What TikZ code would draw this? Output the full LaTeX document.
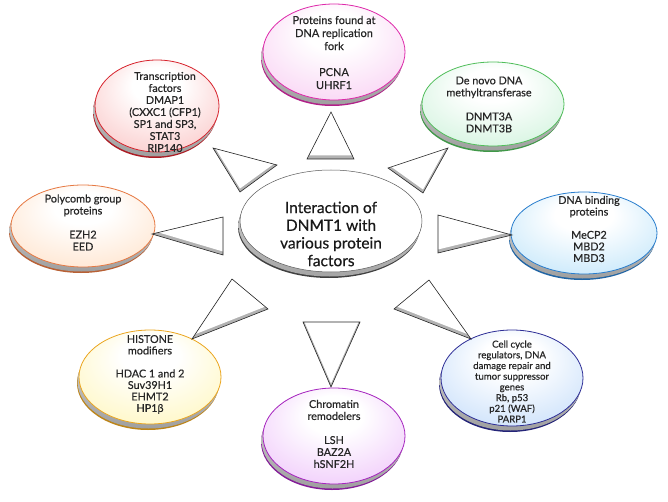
\documentclass[tikz,border=0pt]{standalone}
\usepackage{fontspec}
\setmainfont{Lato}[FakeBold=0.5]
\usetikzlibrary{calc}
\definecolor{cPink}{RGB}{222,40,170}
\definecolor{fPink}{RGB}{248,205,242}
\definecolor{cGreen}{RGB}{80,190,90}
\definecolor{fGreen}{RGB}{205,242,218}
\definecolor{cBlue}{RGB}{40,125,205}
\definecolor{fBlue}{RGB}{190,228,250}
\definecolor{cNavy}{RGB}{45,45,150}
\definecolor{fNavy}{RGB}{195,220,250}
\definecolor{cPurple}{RGB}{165,35,190}
\definecolor{fPurple}{RGB}{238,195,250}
\definecolor{cGold}{RGB}{235,165,30}
\definecolor{fGold}{RGB}{255,246,185}
\definecolor{cOrange}{RGB}{230,120,65}
\definecolor{fOrange}{RGB}{255,225,200}
\definecolor{cRed}{RGB}{215,35,45}
\definecolor{fRed}{RGB}{250,195,195}
\newcommand\declface[1]{\pgfdeclareradialshading{face#1}{\pgfpoint{0bp}{14bp}}{color(0bp)=(white);color(10bp)=(white);color(38bp)=(f#1);color(50bp)=(f#1)}}
\declface{Pink}\declface{Green}\declface{Blue}\declface{Navy}
\declface{Purple}\declface{Gold}\declface{Orange}\declface{Red}
\newcommand\bubble[5]{% x, y, rx, ry, colour key
  \fill[c#5!80!black] (#1-2,#2+6) ellipse ({#3} and {#4});
  \shade[top color=gray!30, bottom color=gray!75] (#1-1.5,#2+4.5) ellipse ({#3} and {#4});
  \shade[shading=face#5] (#1,#2) ellipse ({#3} and {#4});
  \draw[c#5, line width=0.8] (#1,#2) ellipse ({#3} and {#4});
}
\newcommand\tri[6]{%
  \begin{scope}
    \clip (#1,#2)--(#3,#4)--(#5,#6)--cycle;
    \fill[gray!60] (#1,#2)--(#3,#4)--(#5,#6)--cycle;
    \fill[white] (#1,#2-3.5)--(#3,#4-3.5)--(#5,#6-3.5)--cycle;
  \end{scope}
  \draw[black!85, line width=0.6] (#1,#2)--(#3,#4)--(#5,#6)--cycle;
}
\tikzset{
  lbl/.style={align=center, inner sep=0pt, text=black!85, font=\fontsize{10.8}{12}\selectfont},
  bigtxt/.style={align=center, inner sep=0pt, text=black!90, font=\fontsize{15.5}{17.7}\selectfont}
}
\begin{document}
\begin{tikzpicture}[x=1pt,y=-1pt]
\useasboundingbox (0,0) rectangle (668,502);
\fill[white] (0,0) rectangle (668,502);
% outer bubbles
\bubble{334}{52}{71}{48}{Pink}
\bubble{493}{104}{71}{42}{Green}
\bubble{584}{233}{73}{41}{Blue}
\bubble{512}{378}{71}{48}{Navy}
\bubble{334}{436}{71}{48}{Purple}
\bubble{150}{377}{71}{47}{Gold}
\bubble{83}{226}{72}{41}{Orange}
\bubble{157}{106}{62}{46}{Red}
% center bubble
\fill[black!75] (329,227) ellipse (91 and 51);
\shade[top color=gray!30, bottom color=gray!70] (329.5,225.5) ellipse (91 and 51);
\fill[white] (331,221) ellipse (91 and 51);
\draw[black!65, line width=0.5] (331,221) ellipse (91 and 51);
% pointers
\tri{331}{112}{307}{159}{354}{159}
\tri{448}{148}{388}{168}{423}{193}
\tri{512}{235}{438}{215}{438}{253}
\tri{471}{339}{394}{309}{429}{280}
\tri{331}{387}{303}{322}{360}{322}
\tri{192}{339}{232}{279}{268}{309}
\tri{152}{234}{223}{217}{223}{255}
\tri{213}{148}{277}{165}{240}{192}
% texts
\node[bigtxt] (center) at (331,234) {Interaction of\\DNMT1 with\\various protein\\factors};
\node[lbl, font=\fontsize{11}{13}\selectfont] (repl) at (334,52.5) {Proteins found at\\DNA replication\\fork\\[13pt]PCNA\\UHRF1};
\node[lbl] (denovo) at (489,104.5) {De novo DNA\\methyltransferase\\[12pt]DNMT3A\\DNMT3B};
\node[lbl, font=\fontsize{10.8}{11.6}\selectfont] (binding) at (589,229) {DNA binding\\proteins\\[11.6pt]MeCP2\\MBD2\\MBD3};
\node[lbl, font=\fontsize{9.6}{10.7}\selectfont] (cellcycle) at (512,381.5) {Cell cycle\\regulators, DNA\\damage repair and\\tumor suppressor\\genes\\Rb, p53\\p21 (WAF)\\PARP1};
\node[lbl] (chromatin) at (334,434) {Chromatin\\remodelers\\[12pt]LSH\\BAZ2A\\hSNF2H};
\node[lbl, font=\fontsize{10.8}{11.5}\selectfont] (histone) at (150,374.5) {HISTONE\\modifiers\\[11.5pt]HDAC 1 and 2\\Suv39H1\\EHMT2\\HP1β};
\node[lbl] (polycomb) at (83,222.5) {Polycomb group\\proteins\\[12pt]EZH2\\EED};
\node[lbl] (transcr) at (165,112) {Transcription\\factors\\DMAP1\\(CXXC1 (CFP1)\\SP1 and SP3,\\STAT3\\RIP140};
\end{tikzpicture}
\end{document}
